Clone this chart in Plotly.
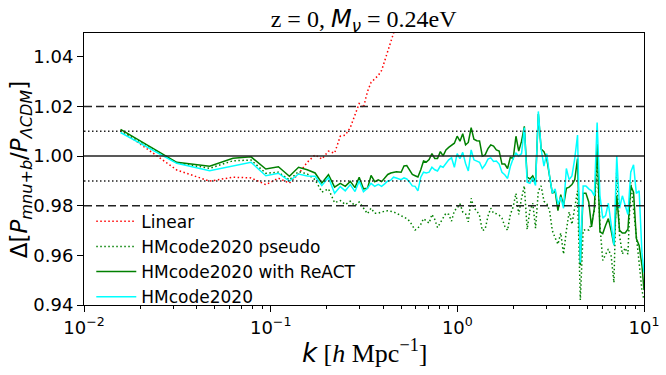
import plotly.graph_objects as go

# k bins [h/Mpc]: fundamental-mode multiples at low k, log bins above
k_lin = [0.0157, 0.0314, 0.0471, 0.0628, 0.0785, 0.0942, 0.110, 0.126, 0.141, 0.157,
         0.173, 0.188, 0.204, 0.220, 0.236, 0.251, 0.267, 0.283, 0.298, 0.314,
         0.330, 0.345, 0.361, 0.377, 0.393, 0.408, 0.424, 0.440, 0.455, 0.471]
k_log = [0.500, 0.518, 0.536, 0.555, 0.574, 0.594, 0.615, 0.637, 0.659, 0.682,
         0.706, 0.731, 0.757, 0.783, 0.811, 0.839, 0.869, 0.899, 0.931, 0.964,
         0.998, 1.033, 1.069, 1.107, 1.145, 1.186, 1.227, 1.271, 1.315, 1.361,
         1.409, 1.459, 1.510, 1.563, 1.618, 1.675, 1.734, 1.795, 1.858, 1.923,
         1.991, 2.061, 2.133, 2.208, 2.285, 2.366, 2.449, 2.535, 2.624, 2.716,
         2.812, 2.911, 3.013, 3.119, 3.228, 3.342, 3.459, 3.581, 3.707, 3.837,
         3.972, 4.111, 4.256, 4.405, 4.560, 4.720, 4.886, 5.058, 5.236, 5.420,
         5.610, 5.807, 6.011, 6.223, 6.441, 6.668, 6.902, 7.145, 7.396, 7.656,
         7.925, 8.203, 8.491, 8.790, 9.099, 9.418, 9.749, 10.0]
k_all = k_lin + k_log
k_linear = k_lin + [0.500, 0.518]

ratio_linear = [1.0105, 0.9944, 0.9899, 0.9915, 0.9912, 0.9885, 0.9911, 0.9891, 0.9928, 0.9975,
                1.0005, 0.9988, 1.0020, 1.0012, 1.0080, 1.0084, 1.0115, 1.0170, 1.0212, 1.0195,
                1.0260, 1.0297, 1.0310, 1.0325, 1.0345, 1.0385, 1.0420, 1.0460, 1.0495, 1.0530,
                1.0580, 1.0620]

ratio_pseudo = [1.0103, 0.9973, 0.9951, 0.9981, 0.9984, 0.9931, 0.9935, 0.9904, 0.9938, 0.9928,
                0.9905, 0.9855, 0.9868, 0.9812, 0.9821, 0.9805, 0.9818, 0.9800, 0.9815, 0.9790,
                0.9768, 0.9790, 0.9770, 0.9770, 0.9775, 0.9778, 0.9780, 0.9778, 0.9775, 0.9770,
                0.9760, 0.9755, 0.9748, 0.9738, 0.9718, 0.9702, 0.9710, 0.9725, 0.9748, 0.9738,
                0.9730, 0.9765, 0.9745, 0.9712, 0.9730, 0.9752, 0.9770, 0.9765, 0.9738, 0.9780,
                0.9790, 0.9808, 0.9775, 0.9768, 0.9735, 0.9830, 0.9790, 0.9780, 0.9760, 0.9700,
                0.9705, 0.9758, 0.9790, 0.9770, 0.9768, 0.9762, 0.9750, 0.9718, 0.9701, 0.9765,
                0.9795, 0.9850, 0.9765, 0.9830, 0.9880, 0.9705, 0.9781, 0.9810, 0.9710, 0.9860,
                0.9880, 0.9818, 0.9810, 0.9780, 0.9700, 0.9670, 0.9645, 0.9690, 0.9605, 0.9700,
                0.9775, 0.9725, 0.9800, 0.9860, 0.9420, 0.9700, 0.9705, 0.9702, 0.9730, 0.9780,
                0.9985, 0.9721, 0.9580, 0.9600, 0.9625, 0.9598, 0.9490, 0.9950, 0.9680, 0.9605,
                0.9630, 0.9605, 0.9895, 0.9785, 0.9665, 0.9570, 0.9460, 0.9420]

ratio_react = [1.0108, 0.9975, 0.9959, 0.9991, 0.9997, 0.9948, 0.9957, 0.9919, 0.9955, 0.9945,
               0.9932, 0.9892, 0.9925, 0.9875, 0.9890, 0.9878, 0.9898, 0.9873, 0.9915, 0.9868,
               0.9870, 0.9922, 0.9897, 0.9904, 0.9897, 0.9912, 0.9926, 0.9932, 0.9935, 0.9937,
               0.9935, 0.9960, 0.9962, 0.9945, 0.9926, 0.9921, 0.9916, 0.9945, 0.9980, 0.9976,
               0.9986, 1.0010, 0.9990, 0.9990, 1.0018, 1.0001, 1.0025, 1.0035, 1.0045, 1.0052,
               1.0080, 1.0060, 1.0090, 1.0045, 1.0055, 1.0115, 1.0068, 1.0062, 1.0061, 1.0000,
               1.0005, 1.0030, 1.0045, 1.0040, 1.0025, 1.0020, 0.9968, 0.9968, 0.9950, 0.9995,
               0.9990, 1.0080, 1.0020, 1.0060, 1.0120, 0.9915, 0.9908, 0.9920, 0.9895, 1.0170,
               1.0028, 1.0018, 0.9990, 0.9910, 0.9850, 0.9860, 0.9780, 0.9845, 0.9800, 0.9870,
               0.9875, 0.9885, 0.9905, 0.9990, 0.9560, 0.9850, 0.9850, 0.9815, 0.9715, 0.9790,
               1.0050, 0.9695, 0.9688, 0.9720, 0.9748, 0.9700, 0.9641, 0.9841, 0.9701, 0.9690,
               0.9690, 0.9705, 0.9880, 0.9855, 0.9668, 0.9640, 0.9560, 0.9460]

ratio_hmcode = [1.0095, 0.9971, 0.9941, 0.9960, 0.9975, 0.9921, 0.9931, 0.9899, 0.9928, 0.9920,
                0.9919, 0.9881, 0.9914, 0.9850, 0.9877, 0.9860, 0.9885, 0.9857, 0.9900, 0.9856,
                0.9870, 0.9890, 0.9878, 0.9886, 0.9878, 0.9888, 0.9900, 0.9903, 0.9915, 0.9912,
                0.9905, 0.9912, 0.9908, 0.9895, 0.9880, 0.9878, 0.9860, 0.9915, 0.9935, 0.9932,
                0.9935, 0.9955, 0.9945, 0.9940, 0.9960, 0.9955, 0.9972, 0.9985, 0.9993, 0.9955,
                1.0010, 0.9990, 1.0015, 0.9970, 0.9940, 1.0025, 0.9985, 0.9980, 0.9975, 0.9950,
                0.9965, 0.9988, 0.9993, 0.9978, 0.9980, 0.9968, 0.9935, 0.9925, 0.9910, 0.9958,
                0.9990, 1.0012, 1.0000, 1.0010, 1.0115, 0.9895, 0.9890, 0.9912, 0.9882, 1.0180,
                1.0028, 0.9960, 1.0010, 0.9920, 0.9850, 0.9868, 0.9805, 0.9835, 0.9790, 0.9950,
                0.9905, 0.9920, 0.9990, 1.0085, 0.9570, 0.9880, 0.9880, 0.9868, 0.9860, 0.9840,
                1.0135, 0.9841, 0.9750, 0.9760, 0.9810, 0.9725, 0.9641, 1.0000, 0.9790, 0.9840,
                0.9800, 0.9765, 0.9935, 0.9965, 0.9850, 0.9860, 0.9610, 0.9530]

ref_levels = [1.02, 1.01, 1.00, 0.99, 0.98]
ref_dash = ["8px,4px", "1.5px,2.5px", "solid", "1.5px,2.5px", "8px,4px"]

y_ticks = [0.94, 0.96, 0.98, 1.00, 1.02, 1.04]
x_ticks = [0.01, 0.1, 1, 10]
x_ticktext = ["10<sup>−2</sup>", "10<sup>−1</sup>", "10<sup>0</sup>", "10<sup>1</sup>"]

fig = go.Figure()
fig.add_trace(go.Scatter(x=k_linear, y=ratio_linear, mode="lines", name="Linear",
                         line=dict(color="#ff0000", width=1.5, dash="1.5px,2.5px")))
fig.add_trace(go.Scatter(x=k_all, y=ratio_pseudo, mode="lines", name="HMcode2020 pseudo",
                         line=dict(color="#008000", width=1.5, dash="1.5px,2.5px")))
fig.add_trace(go.Scatter(x=k_all, y=ratio_react, mode="lines", name="HMcode2020 with ReACT",
                         line=dict(color="#008000", width=1.5)))
fig.add_trace(go.Scatter(x=k_all, y=ratio_hmcode, mode="lines", name="HMcode2020",
                         line=dict(color="#00ffff", width=1.5)))

for lev, d in zip(ref_levels, ref_dash):
    fig.add_shape(type="line", xref="paper", x0=0, x1=1, yref="y", y0=lev, y1=lev,
                  layer="above", line=dict(color="#222222", width=1.5, dash=d))

minor_vals = [m * 10 ** e for e in (-2, -1, 0) for m in range(2, 10)]

fig.update_layout(
    width=666, height=375,
    margin=dict(l=84, r=22, t=33, b=70, autoexpand=False),
    paper_bgcolor="white", plot_bgcolor="white",
    font=dict(family="DejaVu Sans", color="black"),
    title=dict(text="z = 0, <span style=\"font-family:DejaVu Sans\"><i>M</i><sub><i>ν</i></sub></span> = 0.24eV",
               font=dict(family="Liberation Serif", size=24, color="black"),
               x=0.546, xanchor="center", yref="container", y=0.95, yanchor="middle"),
    showlegend=True,
    legend=dict(x=0.013, y=0.372, xanchor="left", yanchor="top",
                bgcolor="rgba(0,0,0,0)", borderwidth=0,
                font=dict(family="DejaVu Sans", size=17), tracegroupgap=0, itemwidth=40),
    xaxis=dict(type="log", range=[-2, 1], tickvals=x_ticks, ticktext=x_ticktext,
               ticks="outside", ticklen=6, tickcolor="black", showgrid=False, zeroline=False,
               showline=True, linecolor="black", linewidth=1, mirror=True,
               tickfont=dict(size=18),
               minor=dict(tickvals=minor_vals, ticks="outside", ticklen=3, tickcolor="black", showgrid=False)),
    yaxis=dict(range=[0.94, 1.0496], tickvals=y_ticks, ticktext=[f"{v:.2f}" for v in y_ticks],
               ticks="outside", ticklen=6, tickcolor="black", showgrid=False, zeroline=False,
               showline=True, linecolor="black", linewidth=1, mirror=True,
               tickfont=dict(size=18)),
    annotations=[
        dict(text="<span style=\"font-family:DejaVu Sans\"><i>k</i></span> [<i>h</i> Mpc<sup>−1</sup>]",
             xref="paper", yref="paper", x=0.5, y=-0.172, xanchor="center", yanchor="middle",
             showarrow=False, font=dict(family="Liberation Serif", size=26)),
        dict(text="Δ[<i>P</i><sub><i>mnu+b</i></sub>/<i>P</i><sub><i>ΛCDM</i></sub>]",
             xref="paper", yref="paper", x=-0.112, y=0.5, xanchor="center", yanchor="middle",
             textangle=-90, showarrow=False, font=dict(family="DejaVu Sans", size=23)),
    ],
)

# drop the browser's default page margin so the figure sits at (0, 0)
fig.write_html("out.html", config={"displayModeBar": False},
               post_script="document.body.style.margin='0';")
